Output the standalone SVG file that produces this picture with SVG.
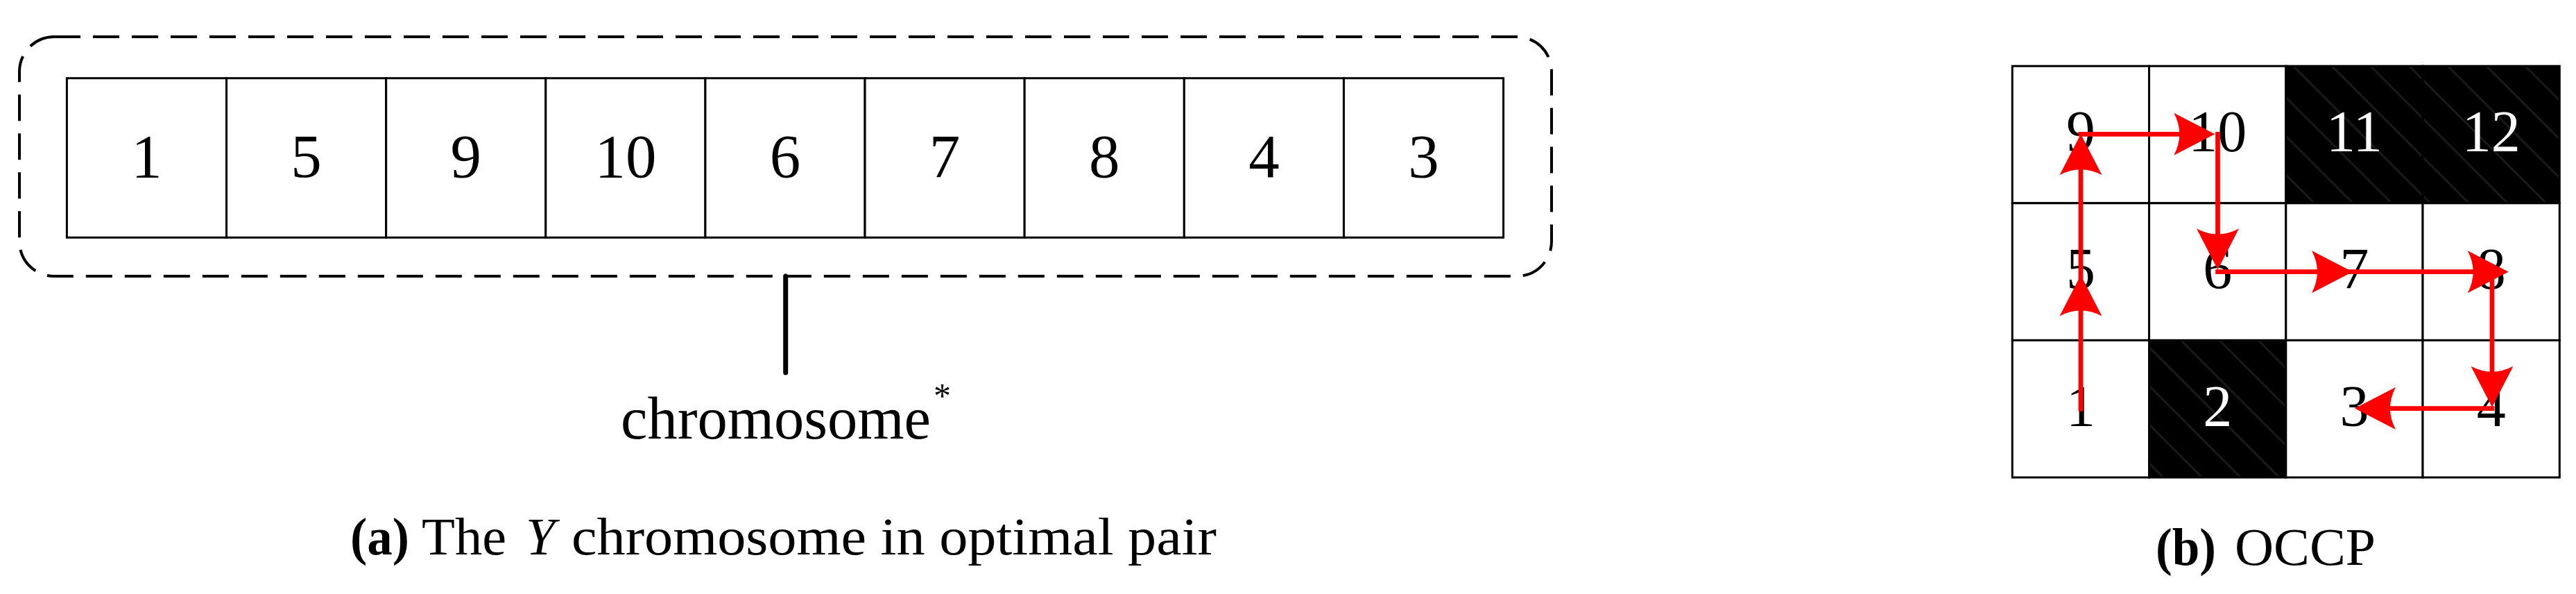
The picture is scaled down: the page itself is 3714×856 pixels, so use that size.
<svg xmlns="http://www.w3.org/2000/svg" width="3714" height="856" viewBox="0 0 3714 856">
<style>
.bg{fill:#ffffff}
.cell{fill:#ffffff;stroke:#000;stroke-width:3}
.dcell{fill:#000;stroke:#000;stroke-width:3}
.num{font-family:"Liberation Serif","Times New Roman",serif;font-size:89px;text-anchor:middle;fill:#000}
.gnum{font-family:"Liberation Serif","Times New Roman",serif;font-size:84px;text-anchor:middle;fill:#000}
.wnum{fill:#fff}
.cap{font-family:"Liberation Serif","Times New Roman",serif;font-size:76px;fill:#000}
.bold{font-weight:bold}
.ital{font-style:italic}
.arr{stroke:#ff0000;stroke-width:6.7;fill:none;marker-end:url(#ah)}
</style>
<defs>
<pattern id="hatch" patternUnits="userSpaceOnUse" width="39.4" height="39.4" patternTransform="rotate(-45)">
<rect x="23.3" y="0" width="3" height="39.4" fill="#1a1a1a"/>
</pattern>
<marker id="ah" markerUnits="userSpaceOnUse" viewBox="0 -32 60 64" refX="9" refY="0" markerWidth="60" markerHeight="64" orient="auto" overflow="visible">
<path d="M59,0 L0,-30.5 Q16,0 0,30.5 Z" fill="#ff0000"/>
</marker>
</defs>
<rect class="bg" x="0" y="0" width="3714" height="856"/>

<g id="chromosome-a">
<rect id="dashed-frame" x="28" y="53" width="2209" height="345" rx="50" ry="50" fill="none" stroke="#000" stroke-width="4" stroke-dasharray="38 18"/>
<g id="gene-1"><rect class="cell" x="96.4" y="112.7" width="230.13" height="229.6"/><text class="num" x="211.5" y="255">1</text></g>
<g id="gene-5"><rect class="cell" x="326.53" y="112.7" width="230.13" height="229.6"/><text class="num" x="441.6" y="255">5</text></g>
<g id="gene-9"><rect class="cell" x="556.66" y="112.7" width="230.13" height="229.6"/><text class="num" x="671.8" y="255">9</text></g>
<g id="gene-10"><rect class="cell" x="786.79" y="112.7" width="230.13" height="229.6"/><text class="num" x="901.9" y="255">10</text></g>
<g id="gene-6"><rect class="cell" x="1016.92" y="112.7" width="230.13" height="229.6"/><text class="num" x="1132" y="255">6</text></g>
<g id="gene-7"><rect class="cell" x="1247.05" y="112.7" width="230.13" height="229.6"/><text class="num" x="1362.1" y="255">7</text></g>
<g id="gene-8"><rect class="cell" x="1477.18" y="112.7" width="230.13" height="229.6"/><text class="num" x="1592.3" y="255">8</text></g>
<g id="gene-4"><rect class="cell" x="1707.31" y="112.7" width="230.13" height="229.6"/><text class="num" x="1822.4" y="255">4</text></g>
<g id="gene-3"><rect class="cell" x="1937.44" y="112.7" width="230.13" height="229.6"/><text class="num" x="2052.5" y="255">3</text></g>
</g>

<g id="chromosome-label">
<line x1="1132.7" y1="398" x2="1132.7" y2="537" stroke="#000" stroke-width="7" stroke-linecap="round"/>
<text x="895" y="631.7" font-family="Liberation Serif, Times New Roman, serif" font-size="87" textLength="447" lengthAdjust="spacingAndGlyphs">chromosome</text>
<text x="1346" y="587" font-family="Liberation Serif, Times New Roman, serif" font-size="50">*</text>
</g>

<g id="caption-a">
<text class="cap bold" x="505" y="799" textLength="85" lengthAdjust="spacingAndGlyphs">(a)</text>
<text class="cap" x="608" y="799" textLength="122" lengthAdjust="spacingAndGlyphs">The</text>
<text class="cap ital" x="758" y="799">Y</text>
<text class="cap" x="824" y="799" textLength="930" lengthAdjust="spacingAndGlyphs">chromosome in optimal pair</text>
</g>

<g id="grid-b">
<g id="cell-9"><rect class="cell" x="2901.3" y="95.2" width="197.25" height="197.6"/><text class="gnum" x="2999.9" y="218">9</text></g>
<g id="cell-10"><rect class="cell" x="3098.55" y="95.2" width="197.25" height="197.6"/><text class="gnum" x="3197.2" y="218">10</text></g>
<g id="cell-11"><rect class="dcell" x="3295.8" y="95.2" width="197.25" height="197.6"/><rect x="3297.3" y="96.7" width="194.25" height="194.6" fill="url(#hatch)"/><text class="gnum wnum" x="3394.4" y="218">11</text></g>
<g id="cell-12"><rect class="dcell" x="3493.05" y="95.2" width="197.25" height="197.6"/><rect x="3494.55" y="96.7" width="194.25" height="194.6" fill="url(#hatch)"/><text class="gnum wnum" x="3591.7" y="218">12</text></g>
<g id="cell-5"><rect class="cell" x="2901.3" y="292.8" width="197.25" height="197.6"/><text class="gnum" x="2999.9" y="416">5</text></g>
<g id="cell-6"><rect class="cell" x="3098.55" y="292.8" width="197.25" height="197.6"/><text class="gnum" x="3197.2" y="416">6</text></g>
<g id="cell-7"><rect class="cell" x="3295.8" y="292.8" width="197.25" height="197.6"/><text class="gnum" x="3394.4" y="416">7</text></g>
<g id="cell-8"><rect class="cell" x="3493.05" y="292.8" width="197.25" height="197.6"/><text class="gnum" x="3591.7" y="416">8</text></g>
<g id="cell-1"><rect class="cell" x="2901.3" y="490.4" width="197.25" height="197.6"/><text class="gnum" x="2999.9" y="613.5">1</text></g>
<g id="cell-2"><rect class="dcell" x="3098.55" y="490.4" width="197.25" height="197.6"/><rect x="3100.05" y="491.9" width="194.25" height="194.6" fill="url(#hatch)"/><text class="gnum wnum" x="3197.2" y="613.5">2</text></g>
<g id="cell-3"><rect class="cell" x="3295.8" y="490.4" width="197.25" height="197.6"/><text class="gnum" x="3394.4" y="613.5">3</text></g>
<g id="cell-4"><rect class="cell" x="3493.05" y="490.4" width="197.25" height="197.6"/><text class="gnum" x="3591.7" y="613.5">4</text></g>
</g>

<g id="connectors">
<line class="arr" x1="3000" y1="592.8" x2="3000" y2="446.5"/>
<line class="arr" x1="3000" y1="446.5" x2="3000" y2="243.3"/>
<line class="arr" x1="2996.6" y1="193.3" x2="3143.3" y2="193.3"/>
<line class="arr" x1="3197.5" y1="190" x2="3197.5" y2="338.5"/>
<line class="arr" x1="3194.2" y1="391.7" x2="3342" y2="391.7"/>
<line class="arr" x1="3342" y1="391.7" x2="3566.7" y2="391.7"/>
<line class="arr" x1="3593" y1="391.7" x2="3593" y2="536.7"/>
<line class="arr" x1="3596.3" y1="588.6" x2="3445" y2="588.6"/>
</g>

<g id="caption-b">
<text class="cap bold" x="3108" y="814" textLength="87" lengthAdjust="spacingAndGlyphs">(b)</text>
<text class="cap" x="3222" y="814" textLength="203" lengthAdjust="spacingAndGlyphs">OCCP</text>
</g>
</svg>
